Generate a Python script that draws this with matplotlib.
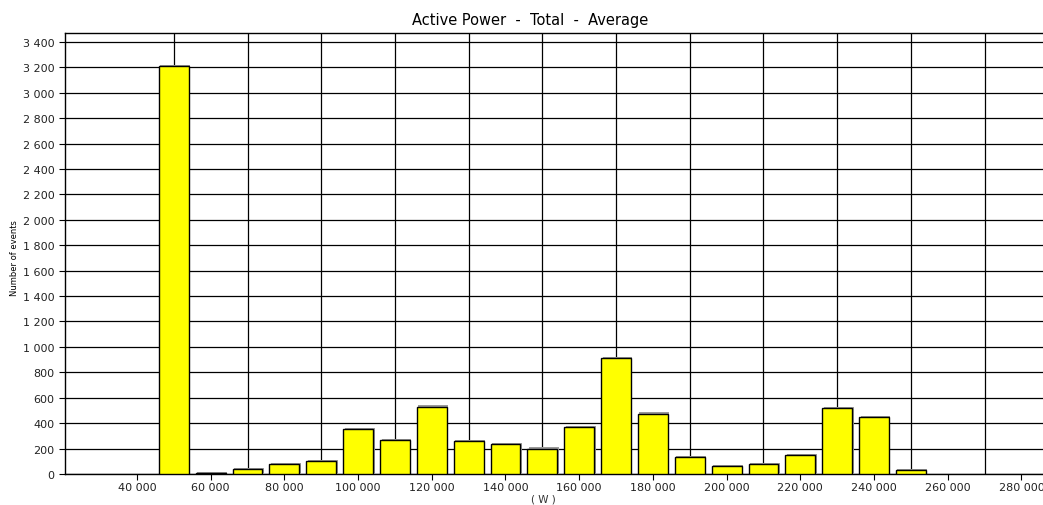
import numpy as np
import matplotlib.pyplot as plt
import matplotlib.transforms as mtransforms
from matplotlib.ticker import FuncFormatter, MultipleLocator

# %%
# Data
# %%
bin_centers = [50000, 60000, 70000, 80000, 90000, 100000, 110000, 120000,
               130000, 140000, 150000, 160000, 170000, 180000, 190000,
               200000, 210000, 220000, 230000, 240000, 250000]
counts = [3210, 5, 38, 78, 103, 352, 266, 530,
          258, 237, 200, 368, 912, 475, 135,
          62, 78, 151, 518, 447, 30]

x_ticks = list(range(40000, 280001, 20000))
x_grid = list(range(50000, 270001, 20000))

title = "Active Power  -  Total  -  Average"
ylabel = "Number of events"
xlabel = "( W )"


def space_thousands(v, pos=None):
    return f"{int(round(v)):,}".replace(",", " ")


# %%
# Figure
# %%
fig = plt.figure(figsize=(10.43, 5.06), dpi=100)
ax = fig.add_axes([65 / 1043, 31 / 506, (1046 - 65) / 1043, (475 - 34) / 506])

# drop shadow behind bars
shadow = mtransforms.offset_copy(ax.transData, fig=fig, x=1.5, y=1.2, units="dots")
ax.bar(bin_centers, counts, width=8100, color="#9a9a9a", edgecolor="none",
       transform=shadow, zorder=2)
ax.bar(bin_centers, counts, width=8100, color="#ffff00", edgecolor="black",
       linewidth=1.0, zorder=3)

ax.set_xlim(20460, 286680)
ax.set_ylim(0, 3470)

ax.yaxis.set_major_locator(MultipleLocator(200))
ax.set_xticks(x_ticks)
ax.xaxis.set_major_formatter(FuncFormatter(space_thousands))
ax.yaxis.set_major_formatter(FuncFormatter(space_thousands))

ax.grid(axis="y", color="black", linewidth=0.9, zorder=1)
for gx in x_grid:
    ax.axvline(gx, color="black", linewidth=0.9, zorder=1)

ax.tick_params(axis="both", labelsize=8, colors="black", length=4, width=0.8,
               direction="out")
ax.tick_params(axis="x", pad=2)
for lab in ax.get_xticklabels() + ax.get_yticklabels():
    lab.set_color("#222222")

for side in ["left", "bottom", "top"]:
    ax.spines[side].set_color("black")
    ax.spines[side].set_linewidth(1.0)
ax.spines["right"].set_visible(False)

fig.text(530 / 1043, 1 - 20 / 506, title, ha="center", va="center",
         fontsize=10.5, fontfamily="Liberation Sans Narrow", color="black")
fig.text(15 / 1043, 1 - 258 / 506, ylabel, ha="center", va="center",
         rotation=90, fontsize=6, fontfamily="Liberation Sans Narrow", color="black")
fig.text(543 / 1043, 1 - 500 / 506, xlabel, ha="center", va="center",
         fontsize=7.5, color="#333333")

fig.savefig("out.png", dpi=100)
